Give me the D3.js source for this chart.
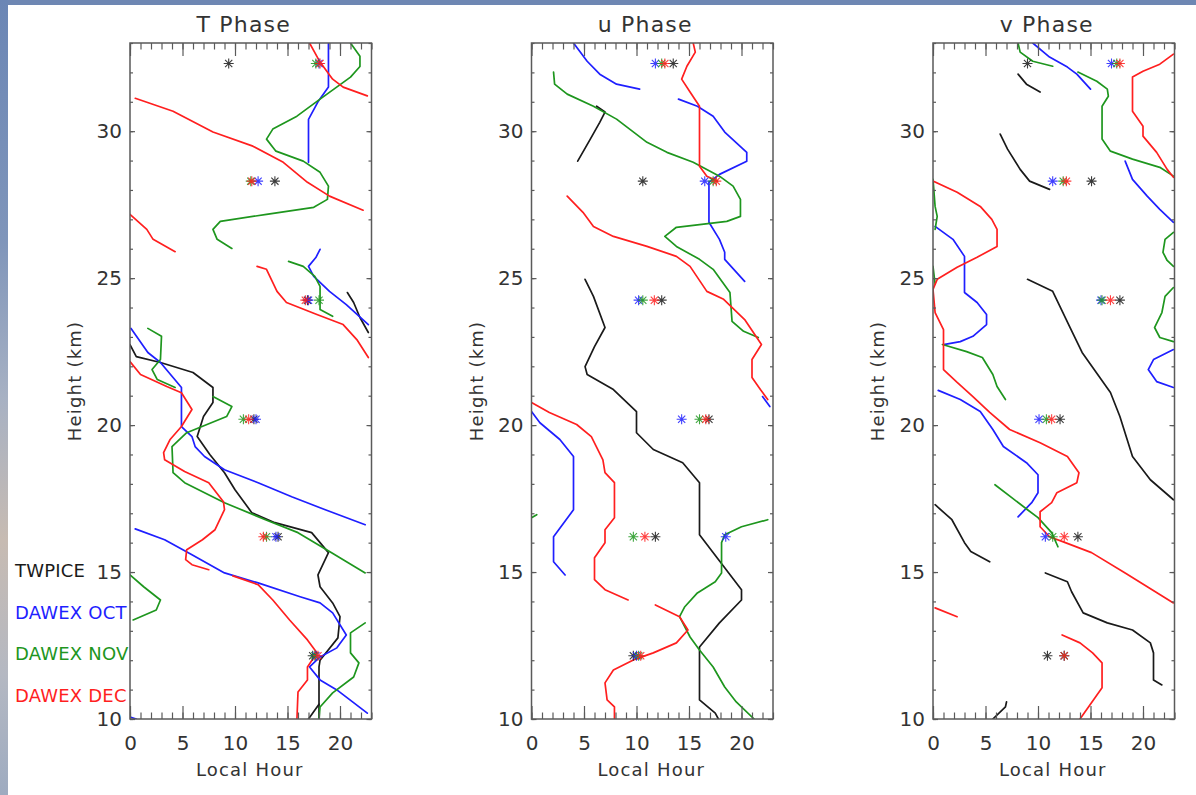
<!DOCTYPE html>
<html><head><meta charset="utf-8">
<script src="https://cdn.jsdelivr.net/npm/d3@7"></script>
<style>body{margin:0;background:#fff}svg{display:block}</style>
</head><body>
<svg id="c" width="1196" height="795"></svg>
<script>
// ---------------- DATA (hour, km) ----------------
const panelTitles = ["T Phase", "u Phase", "v Phase"];
const seriesNames = ["TWPICE", "DAWEX OCT", "DAWEX NOV", "DAWEX DEC"];
const hourTicks = [0, 5, 10, 15, 20];
const kmTicks = [10, 15, 20, 25, 30];
const hourDomain = [0, 23];
const kmDomain = [10, 33];
const starHeights = [12.15, 16.2, 20.2, 24.25, 28.3, 32.3];

// T phase
const tTwpice = [
  [[0,22.74],[0.6,22.33],[2.9,22.13],[6.0,21.79],[7.9,21.28],[7.9,20.77],[7.0,20.29],[6.4,19.61],[7.6,19.0],[9.0,18.38],[10.0,17.8],[11.6,17.02],[13.8,16.68],[17.3,16.34],[18.9,15.66],[17.9,14.9],[18.1,14.5],[19.3,13.95],[20.0,13.48],[19.8,12.76],[18.1,12.0],[18.0,11.77],[18.0,10.0]],
  [[17.0,10.0],[18.0,10.5]],
  [[20.7,24.51],[21.3,24.17],[21.9,23.66],[22.7,23.15]]
];
const tOct = [
  [[18.9,33.0],[18.9,31.5],[17.9,31.0],[17.0,30.4],[17.0,28.94]],
  [[18.1,25.98],[17.7,25.7],[17.0,25.4],[17.5,25.06],[19.0,24.55],[20.6,24.1],[22.7,23.42]],
  [[0.1,23.29],[1.7,22.47],[2.9,22.13],[4.9,21.28],[4.9,19.95],[5.9,19.61],[6.2,19.27],[7.1,18.93],[9.0,18.48],[12.2,18.04],[15.4,17.56],[18.6,17.12],[22.4,16.61]],
  [[0.5,16.47],[3.3,16.1],[5.9,15.59],[9.0,14.97],[12.2,14.63],[16.2,14.16],[18.1,13.95],[19.3,13.61],[20.6,12.86],[19.7,12.42],[18.1,12.11],[17.1,11.77],[18.1,11.33],[19.7,10.99],[22.6,10.2]],
  [[0,10.07],[0.6,10.0]]
];
const tNov = [
  [[21.0,33.0],[21.9,32.55],[21.9,32.2],[21.0,31.84],[18.1,31.09],[15.9,30.51],[13.6,30.07],[13.0,29.73],[13.9,29.32],[16.5,28.98],[18.1,28.6],[18.9,28.13],[18.8,27.68],[17.5,27.41],[13.0,27.17],[8.6,26.93],[7.9,26.66],[8.3,26.32],[9.7,26.01]],
  [[15.1,25.57],[16.5,25.4],[17.6,25.06],[18.1,24.72],[18.1,23.93],[19.3,23.7]],
  [[1.7,23.29],[3.0,23.02],[2.9,22.23],[2.1,21.89],[2.6,21.55],[4.3,21.28]],
  [[7.9,20.97],[9.7,20.63],[9.2,20.29],[5.4,19.74],[4.0,19.27],[4.1,18.38],[5.2,18.04],[9.0,17.36],[12.9,16.78],[16.0,16.34],[19.2,15.66],[22.4,14.97]],
  [[0,14.9],[1.3,14.5],[2.9,14.05],[2.5,13.71],[0.3,13.37]],
  [[22.4,13.27],[21.0,12.93],[21.0,12.25],[21.8,11.91],[21.3,11.43],[19.3,10.89],[18.1,10.41],[18.0,10.0]]
];
const tDec = [
  [[0.5,31.12],[4.1,30.68],[7.9,29.97],[11.7,29.49],[14.6,28.94],[16.9,28.26],[19.0,27.79],[22.2,27.31]],
  [[17.1,33.0],[18.1,32.35],[19.3,31.77],[20.3,31.5],[22.6,31.2]],
  [[0,27.17],[1.6,26.66],[2.2,26.32],[4.3,25.9]],
  [[12.1,25.4],[13.0,25.3],[14.0,24.55],[14.9,24.17],[17.8,23.76],[20.3,23.42],[21.6,22.91],[22.7,22.3]],
  [[0,22.16],[1.0,21.72],[3.5,21.31],[4.9,21.1],[5.9,20.53],[4.9,19.95],[3.8,19.5],[3.2,19.06],[3.3,18.82],[5.2,18.42],[7.5,18.04],[8.9,17.39],[9.0,17.12],[8.1,16.44],[6.9,16.1],[5.4,15.76],[5.3,15.42],[5.9,15.25],[7.5,15.08]],
  [[9.8,14.87],[12.2,14.57],[13.6,14.05],[15.2,13.37],[16.9,12.69],[17.8,12.25],[16.9,11.77],[16.9,11.33],[16.0,10.92],[15.9,10.0]]
];
const tStarTwpice = [17.4, 14.1, 11.8, 16.9, 13.8, 9.4];
const tStarOct    = [17.7, 13.9, 12.0, 17.0, 12.2, 18.0];
const tStarNov    = [17.6, 13.0, 10.8, 18.0, 11.5, 17.7];
const tStarDec    = [17.9, 12.7, 11.3, 16.7, 11.6, 18.1];

// u phase
const uTwpice = [
  [[6.2,30.85],[7.0,30.65],[6.5,30.3],[5.6,29.73],[4.4,28.98]],
  [[5.1,24.96],[5.9,24.38],[7.0,23.32],[6.0,22.67],[5.1,21.99],[5.3,21.72],[7.8,21.21],[10.0,20.46],[10.0,19.74],[11.6,19.17],[14.4,18.72],[16.0,18.04],[16.0,16.27],[20.0,14.4],[20.0,14.05],[17.9,13.27],[16.0,12.45],[16.0,10.65],[17.5,10.2],[17.8,10.0]]
];
const uOct = [
  [[4.0,33.0],[5.3,32.38],[6.5,31.94],[8.1,31.6],[10.3,31.43]],
  [[14.0,31.09],[15.8,30.85],[17.3,30.51],[18.4,29.97],[20.5,29.28],[20.5,28.98],[17.9,28.53],[16.9,28.26],[16.9,26.9],[17.9,26.32],[18.4,25.88],[18.4,25.64],[20.3,24.89]],
  [[22.0,20.97],[22.7,20.63]],
  [[0,20.46],[0.8,20.08],[2.7,19.51],[4.0,18.93],[4.0,17.12],[2.1,16.2],[2.1,15.35],[3.2,14.9]]
];
const uNov = [
  [[2.1,32.01],[2.2,31.6],[3.4,31.26],[5.9,30.85],[8.1,30.41],[11.0,29.62],[12.9,29.28],[15.4,28.94],[17.9,28.47],[19.2,28.13],[19.9,27.68],[19.9,27.1],[18.6,26.93],[13.8,26.73],[12.7,26.42],[13.8,26.08],[16.0,25.64],[17.3,25.3],[18.9,24.51],[19.1,23.53],[20.2,23.19],[21.6,22.98]],
  [[0,16.85],[0.5,16.95]],
  [[22.5,16.78],[20.0,16.54],[18.4,16.27],[18.1,16.0],[18.1,14.97],[17.5,14.67],[15.8,14.29],[14.6,13.82],[14.1,13.48],[15.1,12.79],[16.0,12.35],[17.3,11.77],[18.4,11.09],[19.5,10.58],[21.2,10.0]]
];
const uDec = [
  [[15.4,33.0],[15.6,32.69],[14.8,32.21],[14.3,31.77],[15.1,31.33],[16.0,30.85],[16.0,28.81],[16.7,28.47],[17.7,28.3]],
  [[3.4,27.79],[4.9,27.24],[5.9,26.76],[7.8,26.42],[11.0,26.08],[13.8,25.74],[15.1,25.4],[16.7,24.55],[18.3,24.28],[20.3,23.59],[21.9,22.74],[21.0,22.23],[21.0,21.62],[21.8,21.21],[22.5,20.87]],
  [[0,20.77],[1.7,20.43],[4.3,20.02],[5.7,19.61],[6.8,18.82],[7.0,18.38],[7.9,18.04],[7.9,16.85],[7.0,16.44],[7.0,16.0],[6.0,15.49],[6.0,14.74],[7.0,14.4],[9.2,14.05]],
  [[11.8,13.88],[14.1,13.48],[14.9,13.03],[13.8,12.59],[11.6,12.25],[9.7,12.01],[7.8,11.67],[7.0,11.23],[7.2,10.65],[7.9,10.41],[7.9,10.0]]
];
const uStarTwpice = [9.7, 11.8, 16.9, 12.4, 10.6, 13.5];
const uStarOct    = [10.0, 18.5, 14.3, 10.2, 16.5, 11.8];
const uStarNov    = [10.2, 9.7, 16.0, 10.6, 17.3, 12.4];
const uStarDec    = [10.4, 10.8, 16.6, 11.7, 17.6, 12.7];

// v phase
const vTwpice = [
  [[8.1,31.94],[8.9,31.6],[10.2,31.33]],
  [[6.4,29.9],[7.1,29.39],[8.3,28.7],[9.2,28.3],[11.1,28.02]],
  [[9.0,24.96],[11.4,24.55],[13.0,23.36],[14.2,22.47],[16.9,21.11],[17.8,20.29],[19.0,18.93],[20.7,18.14],[22.9,17.46]],
  [[0.2,17.29],[1.8,16.78],[3.0,16.0],[3.6,15.7],[5.4,15.35]],
  [[10.7,14.97],[12.8,14.67],[13.2,14.33],[14.3,13.61],[16.6,13.27],[19.0,13.03],[20.7,12.59],[21.0,12.25],[21.0,11.33],[21.8,11.16]],
  [[5.7,10.0],[6.9,10.41],[7.0,10.58]]
];
const vOct = [
  [[9.5,33.0],[11.1,32.52],[12.8,32.18],[13.7,31.94],[15.0,31.43]],
  [[18.3,28.98],[19.0,28.36],[20.4,27.79],[21.6,27.34],[22.9,26.9]],
  [[0.2,26.76],[1.9,26.32],[3.0,25.74],[3.0,24.51],[4.2,24.17],[5.1,23.76],[5.1,23.42],[3.8,23.02],[2.6,22.84],[1.0,22.74]],
  [[22.9,22.57],[21.0,22.23],[20.5,21.89],[21.3,21.48],[22.9,21.28]],
  [[0.5,21.18],[2.6,20.87],[4.5,20.46],[5.7,19.85],[6.7,19.27],[8.9,18.72],[10.0,18.31],[10.0,17.7],[9.4,17.36],[8.1,16.88]]
];
const vNov = [
  [[8.1,33.0],[8.3,32.69],[9.5,32.38],[11.4,32.21]],
  [[13.8,32.01],[15.6,31.7],[16.6,31.43],[16.7,31.19],[16.1,30.85],[16.1,29.73],[16.9,29.32],[19.0,29.05],[21.6,28.77],[22.9,28.47]],
  [[0,28.36],[0.2,27.44],[0.4,27.1],[0.2,26.66]],
  [[0,25.4],[0.2,24.8]],
  [[0.9,22.74],[3.2,22.5],[4.7,22.3],[5.7,21.72],[6.1,21.31],[6.9,20.87]],
  [[5.9,17.97],[7.5,17.53],[9.0,17.12],[10.0,16.85],[11.3,16.34],[11.9,15.86]],
  [[22.9,26.56],[22.1,26.32],[21.9,25.88],[22.3,25.6],[22.9,25.4]],
  [[22.9,24.68],[22.1,24.38],[21.8,23.83],[21.1,23.32],[21.6,22.98],[22.9,22.84]]
];
const vDec = [
  [[22.9,32.62],[21.6,32.28],[20.0,32.04],[19.0,31.84],[19.0,30.68],[20.0,30.17],[20.0,29.83],[21.3,29.28],[22.3,28.7],[22.9,28.43]],
  [[0,28.3],[2.3,27.92],[4.5,27.44],[5.6,27.0],[6.1,26.66],[6.1,26.08],[4.2,25.71],[2.3,25.37],[0.4,24.96],[0,24.62],[0.2,23.83],[1.0,23.25],[1.0,21.89],[2.3,21.45],[3.8,20.97],[5.4,20.43],[7.3,19.85],[10.2,19.4],[12.8,18.93],[13.9,18.38],[13.7,18.04],[11.8,17.7],[11.3,17.36],[10.2,17.05],[10.2,16.54],[11.1,16.2],[12.6,16.0],[15.1,15.66],[18.3,14.97],[22.9,13.95]],
  [[0.2,13.78],[2.3,13.48]],
  [[12.3,12.86],[14.0,12.59],[15.2,12.25],[16.1,11.91],[16.1,11.06],[14.0,10.0]]
];
const vStarTwpice = [10.9, 13.8, 12.1, 17.8, 15.1, 9.0];
const vStarOct    = [12.5, 10.7, 10.1, 16.0, 11.4, 17.0];
const vStarNov    = [12.5, 11.4, 10.8, 16.1, 12.4, 17.5];
const vStarDec    = [12.5, 12.5, 11.3, 16.9, 12.7, 17.8];

// ---------------- STYLE / LAYOUT ----------------
const seriesColors = ["#1a1a1a", "#1f1fff", "#1e961e", "#ff1f1f"];
const panelLeft = [130, 531.5, 933];
const plotW = 241.5, plotTop = 43, plotBottom = 719;
const axisColor = "#5a5a5a", textColor = "#333";
const FONT = "'DejaVu Sans', sans-serif";

const panels = [
  {title: panelTitles[0], lines: [tTwpice, tOct, tNov, tDec], stars: [tStarTwpice, tStarOct, tStarNov, tStarDec]},
  {title: panelTitles[1], lines: [uTwpice, uOct, uNov, uDec], stars: [uStarTwpice, uStarOct, uStarNov, uStarDec]},
  {title: panelTitles[2], lines: [vTwpice, vOct, vNov, vDec], stars: [vStarTwpice, vStarOct, vStarNov, vStarDec]}
];

const svg = d3.select("#c");
const defs = svg.append("defs");
const grad = defs.append("linearGradient").attr("id", "edge")
  .attr("x1", 0).attr("y1", 0).attr("x2", 0).attr("y2", 1);
[[0, "#6b86b5"], [0.3, "#7f95ba"], [0.5, "#a7b1c3"], [0.68, "#c7bbb2"], [0.85, "#b4b8c2"], [1, "#9eabc0"]]
  .forEach(([o, c]) => grad.append("stop").attr("offset", o).attr("stop-color", c));

svg.append("rect").attr("width", 1196).attr("height", 795).attr("fill", "#fff");
svg.append("rect").attr("x", 0).attr("y", 0).attr("width", 1196).attr("height", 5).attr("fill", "#6e87b3");
svg.append("rect").attr("x", 0).attr("y", 0).attr("width", 8).attr("height", 795).attr("fill", "url(#edge)");

// legend
const leg = svg.append("g");
seriesNames.forEach((n, i) => {
  leg.append("text").attr("x", 15).attr("y", 577 + i * 41.7)
    .attr("font-family", FONT).attr("font-size", 18).attr("fill", seriesColors[i])
    .attr("letter-spacing", 0.2).text(n);
});

const starPath = "M-5,0H5M0,-5V5M-3.6,-3.6L3.6,3.6M-3.6,3.6L3.6,-3.6";

panels.forEach((p, pi) => {
  const L = panelLeft[pi];
  const x = d3.scaleLinear().domain(hourDomain).range([L, L + plotW]);
  const y = d3.scaleLinear().domain(kmDomain).range([plotBottom, plotTop]);
  const g = svg.append("g");

  const clipId = "clip" + pi;
  defs.append("clipPath").attr("id", clipId).append("rect")
    .attr("x", L).attr("y", plotTop).attr("width", plotW).attr("height", plotBottom - plotTop);

  const line = d3.line().x(d => x(d[0])).y(d => y(d[1]));
  const lg = g.append("g").attr("clip-path", `url(#${clipId})`);
  p.lines.forEach((segs, si) => {
    lg.selectAll(null).data(segs).enter().append("path")
      .attr("d", line).attr("fill", "none").attr("stroke", seriesColors[si])
      .attr("stroke-width", 1.7).attr("stroke-linejoin", "round").attr("stroke-linecap", "round");
  });
  p.stars.forEach((hs, si) => {
    lg.selectAll(null).data(hs.map((h, r) => [h, starHeights[r]])).enter().append("path")
      .attr("transform", d => `translate(${x(d[0])},${y(d[1])})`)
      .attr("d", starPath).attr("fill", "none").attr("stroke", seriesColors[si])
      .attr("stroke-width", 1.1).attr("stroke-opacity", 0.85);
  });

  // axes
  const styleAxis = sel => {
    sel.select(".domain").remove();
    sel.selectAll(".tick line").attr("stroke", axisColor).attr("stroke-width", 1.2);
    sel.selectAll("text").attr("font-family", FONT).attr("fill", textColor);
  };
  const minorH = d3.range(0, 24);
  const minorK = d3.range(10, 34);
  g.append("g").attr("transform", `translate(0,${plotBottom})`)
    .call(d3.axisBottom(x).tickValues(minorH).tickSize(-6.5).tickFormat("")).call(styleAxis);
  g.append("g").attr("transform", `translate(0,${plotBottom})`)
    .call(d3.axisBottom(x).tickValues(hourTicks).tickSize(-13).tickPadding(17).tickFormat(d3.format("d")))
    .call(styleAxis).call(s => s.selectAll("text").attr("font-size", 20));
  g.append("g").attr("transform", `translate(0,${plotTop})`)
    .call(d3.axisTop(x).tickValues(minorH).tickSize(-6.5).tickFormat("")).call(styleAxis);
  g.append("g").attr("transform", `translate(0,${plotTop})`)
    .call(d3.axisTop(x).tickValues(hourTicks).tickSize(-13).tickFormat("")).call(styleAxis);
  g.append("g").attr("transform", `translate(${L},0)`)
    .call(d3.axisLeft(y).tickValues(minorK).tickSize(-3).tickFormat("")).call(styleAxis);
  g.append("g").attr("transform", `translate(${L},0)`)
    .call(d3.axisLeft(y).tickValues(kmTicks).tickSize(-5).tickPadding(8).tickFormat(d3.format("d")))
    .call(styleAxis)
    .call(s => s.selectAll("text").attr("font-size", 20).attr("dy", "0.34em"));
  g.append("g").attr("transform", `translate(${L + plotW},0)`)
    .call(d3.axisRight(y).tickValues(minorK).tickSize(-3).tickFormat("")).call(styleAxis);
  g.append("g").attr("transform", `translate(${L + plotW},0)`)
    .call(d3.axisRight(y).tickValues(kmTicks).tickSize(-5).tickFormat("")).call(styleAxis);

  g.append("rect").attr("x", L).attr("y", plotTop).attr("width", plotW).attr("height", plotBottom - plotTop)
    .attr("fill", "none").attr("stroke", axisColor).attr("stroke-width", 1.5);

  g.append("text").attr("x", L + plotW / 2 - 7).attr("y", 32).attr("text-anchor", "middle")
    .attr("font-family", FONT).attr("font-size", 22).attr("letter-spacing", 1.2).attr("fill", textColor)
    .text(p.title);
  g.append("text").attr("x", L + plotW / 2 - 1).attr("y", 776).attr("text-anchor", "middle")
    .attr("font-family", FONT).attr("font-size", 18).attr("letter-spacing", 1.2).attr("fill", textColor)
    .text("Local Hour");
  g.append("text").attr("transform", `translate(${L - 49},${(plotTop + plotBottom) / 2}) rotate(-90)`)
    .attr("text-anchor", "middle")
    .attr("font-family", FONT).attr("font-size", 18).attr("letter-spacing", 1.2).attr("fill", textColor)
    .text("Height (km)");
});
</script>
</body></html>
